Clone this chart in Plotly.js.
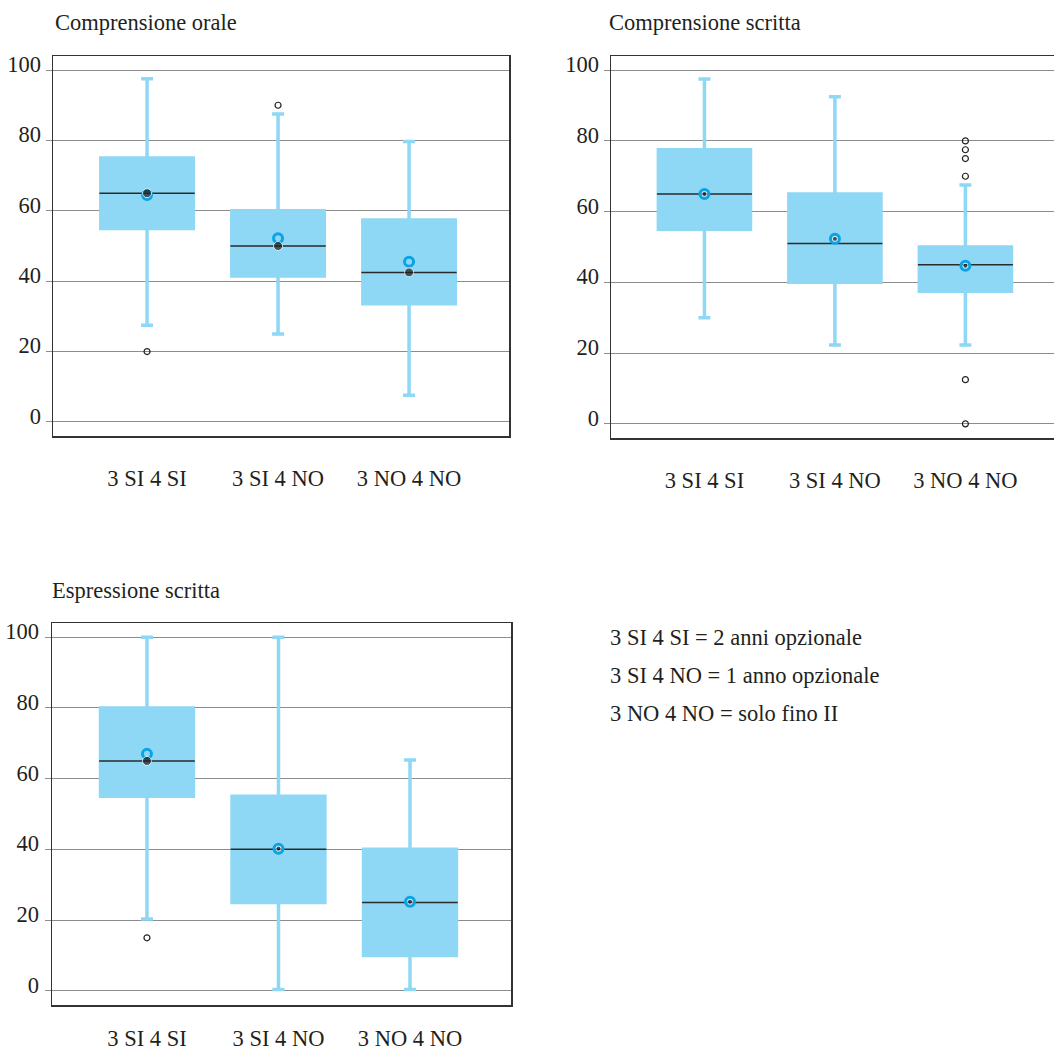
<!DOCTYPE html>
<html><head><meta charset="utf-8">
<script src="https://cdn.plot.ly/plotly-3.0.1.min.js"></script>
<style>html,body{margin:0;padding:0;background:#fff}#chart{width:1054px;height:1050px}</style>
</head><body><div id="chart"></div>
<script>
// ---------- data ----------
const categories = ['3 SI 4 SI', '3 SI 4 NO', '3 NO 4 NO'];
const yTicks = [0, 20, 40, 60, 80, 100];
const panelTitles = ['Comprensione orale', 'Comprensione scritta', 'Espressione scritta'];
const legendLines = ['3 SI 4 SI = 2 anni opzionale', '3 SI 4 NO = 1 anno opzionale', '3 NO 4 NO = solo fino II'];

// Comprensione orale
const oraleLower  = [27.5, 25.0, 7.6];
const oraleQ1     = [55.0, 41.5, 33.6];
const oraleMedian = [65.0, 50.0, 42.5];
const oraleQ3     = [75.0, 60.0, 57.4];
const oraleUpper  = [97.5, 87.5, 79.7];
const oraleMean   = [64.5, 52.2, 45.5];
const oraleDot    = [65.0, 50.0, 42.5];
const oraleOutX   = ['3 SI 4 SI', '3 SI 4 NO'];
const oraleOutY   = [20, 90];

// Comprensione scritta
const scrittaLower  = [30.0, 22.3, 22.3];
const scrittaQ1     = [55.0, 40.0, 37.5];
const scrittaMedian = [65.0, 51.0, 45.0];
const scrittaQ3     = [77.5, 65.0, 50.0];
const scrittaUpper  = [97.5, 92.5, 67.5];
const scrittaMean   = [65.0, 52.3, 44.7];
const scrittaDot    = [65.0, 52.3, 44.7];
const scrittaOutX   = ['3 NO 4 NO', '3 NO 4 NO', '3 NO 4 NO', '3 NO 4 NO', '3 NO 4 NO', '3 NO 4 NO'];
const scrittaOutY   = [80, 77.5, 75, 70, 12.5, 0];

// Espressione scritta
const esprLower  = [20.3, 0.4, 0.4];
const esprQ1     = [55.0, 25.0, 10.0];
const esprMedian = [65.0, 40.0, 25.0];
const esprQ3     = [80.0, 55.0, 40.0];
const esprUpper  = [100.0, 100.0, 65.3];
const esprMean   = [67.0, 40.2, 25.2];
const esprDot    = [65.0, 40.2, 25.2];
const esprOutX   = ['3 SI 4 SI'];
const esprOutY   = [15];

// ---------- styles ----------
const BOXC = '#8fd8f5';
const RINGC = '#0aa3e3';
const DOTC = '#1b1b1b';
const TXT = '#231f20';
const FONT = 'Liberation Serif';

function panelTraces(xa, ya, lower, q1, med, q3, upper, mean, dot, outX, outY, dotSizes) {
  return [
    { type: 'box', xaxis: xa, yaxis: ya, x: categories, lowerfence: lower, q1: q1, median: med, q3: q3, upperfence: upper,
      width: 0.706, whiskerwidth: 0.13, fillcolor: BOXC, line: { color: BOXC, width: 3.5 },
      boxpoints: false, showlegend: false, hoverinfo: 'skip' },
    { type: 'box', xaxis: xa, yaxis: ya, x: categories, lowerfence: med, q1: med, median: med, q3: med, upperfence: med,
      width: 0.728, whiskerwidth: 0, fillcolor: 'rgba(0,0,0,0)', line: { color: '#2a2a2a', width: 1.5 },
      boxpoints: false, showlegend: false, hoverinfo: 'skip' },
    { type: 'scatter', mode: 'markers', xaxis: xa, yaxis: ya, x: categories, y: mean,
      marker: { symbol: 'circle-open', size: 9, color: RINGC, line: { color: RINGC, width: 3 } },
      showlegend: false, hoverinfo: 'skip' },
    { type: 'scatter', mode: 'markers', xaxis: xa, yaxis: ya, x: categories, y: dot,
      marker: { symbol: 'circle', size: dotSizes, color: DOTC },
      showlegend: false, hoverinfo: 'skip' },
    { type: 'scatter', mode: 'markers', xaxis: xa, yaxis: ya, x: outX, y: outY,
      marker: { symbol: 'circle-open', size: 6, color: '#222', line: { color: '#222', width: 1.2 } },
      showlegend: false, hoverinfo: 'skip' }
  ];
}

const data = [].concat(
  panelTraces('x', 'y', oraleLower, oraleQ1, oraleMedian, oraleQ3, oraleUpper, oraleMean, oraleDot, oraleOutX, oraleOutY, [9, 9, 9]),
  panelTraces('x2', 'y2', scrittaLower, scrittaQ1, scrittaMedian, scrittaQ3, scrittaUpper, scrittaMean, scrittaDot, scrittaOutX, scrittaOutY, [5, 5, 5]),
  panelTraces('x3', 'y3', esprLower, esprQ1, esprMedian, esprQ3, esprUpper, esprMean, esprDot, esprOutX, esprOutY, [9, 5, 5])
);

const W = 1054, H = 1050;
function xAxis(anchor, px0, px1, range, standoff) {
  return { domain: [px0 / W, px1 / W], anchor: anchor, type: 'category', categoryorder: 'array', categoryarray: categories,
    range: range, showline: true, mirror: true, linecolor: '#333', linewidth: 1.5, showgrid: false, zeroline: false,
    ticks: '', tickfont: { family: FONT, size: 22.5, color: TXT }, ticklabelstandoff: standoff, fixedrange: true };
}
function yAxis(anchor, py0, py1, mirror, standoff) {
  return { domain: [1 - py1 / H, 1 - py0 / H], anchor: anchor, range: [-4, 104], tickmode: 'array', tickvals: yTicks,
    showgrid: true, gridcolor: '#8c8c8c', gridwidth: 1, zeroline: false, showline: true, mirror: mirror,
    linecolor: '#333', linewidth: 1.5, ticks: 'outside', ticklen: 6, tickcolor: '#8c8c8c', tickwidth: 1,
    tickfont: { family: FONT, size: 22.5, color: TXT }, ticklabelshift: -6, ticklabelstandoff: standoff, fixedrange: true };
}

const annotations = [
  { text: panelTitles[0], x: 53 / W, y: 1 - 23 / H },
  { text: panelTitles[1], x: 607 / W, y: 1 - 23 / H },
  { text: panelTitles[2], x: 50 / W, y: 1 - 590 / H },
  { text: legendLines[0], x: 608 / W, y: 1 - 637 / H },
  { text: legendLines[1], x: 608 / W, y: 1 - 675 / H },
  { text: legendLines[2], x: 608 / W, y: 1 - 713 / H }
].map(a => Object.assign({ xref: 'paper', yref: 'paper', xanchor: 'left', yanchor: 'middle', showarrow: false,
  font: { family: FONT, size: 22.5, color: TXT } }, a));

const layout = {
  width: W, height: H, margin: { l: 0, r: 0, t: 0, b: 0 },
  paper_bgcolor: '#fff', plot_bgcolor: '#fff', showlegend: false, hovermode: false, boxmode: 'overlay',
  xaxis: xAxis('y', 53, 509, [-0.718, 2.763], 21),
  yaxis: yAxis('x', 56, 436, true, 0),
  xaxis2: xAxis('y2', 611, 1054, [-0.716, 2.679], 21),
  yaxis2: yAxis('x2', 56, 438, false, 0),
  xaxis3: xAxis('y3', 52, 511, [-0.722, 2.768], 12),
  yaxis3: yAxis('x3', 623, 1005, true, 1),
  annotations: annotations
};

Plotly.newPlot('chart', data, layout, { displayModeBar: false, staticPlot: true });
</script></body></html>
